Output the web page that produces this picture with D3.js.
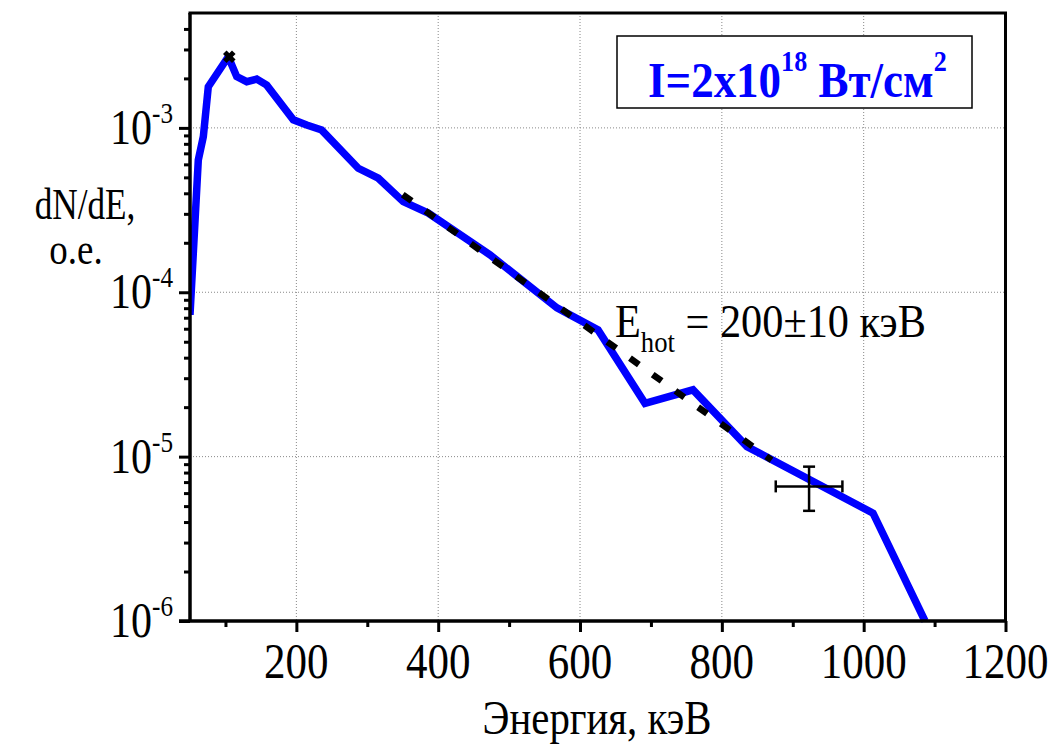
<!DOCTYPE html>
<html><head><meta charset="utf-8">
<script src="https://cdn.jsdelivr.net/npm/d3@7"></script>
<style>body{margin:0;background:#fff} svg{display:block}</style>
</head><body>
<svg id="c" width="1052" height="746"></svg>
<script>
// ---- data ----
const energy = [50, 61.7, 68.8, 75.8, 104, 115.9, 130, 144, 158.2, 195.7, 214.6, 235.7, 287.3, 315.5, 350.8, 386, 473, 567.5, 625.4, 691.6, 759.3, 835.5, 1013.2, 1086.5];
const dNdE = [7.28e-5, 6.38e-4, 8.85e-4, 1.78e-3, 2.71e-3, 2.05e-3, 1.91e-3, 1.98e-3, 1.82e-3, 1.12e-3, 1.04e-3, 9.70e-4, 5.68e-4, 4.94e-4, 3.56e-4, 3.03e-4, 1.69e-4, 8.03e-5, 5.90e-5, 2.11e-5, 2.55e-5, 1.15e-5, 4.53e-6, 1.0e-6];
const fitEnergy = [350, 870];
const fitValue = [3.93e-4, 9.53e-6];
const peakMarker = [105.4, 2.71e-3];
const errX = [876, 923, 970];
const errY = [4.68e-6, 6.59e-6, 8.69e-6];
const xTicks = [200, 400, 600, 800, 1000, 1200];
const xMinor = [100, 300, 500, 700, 900, 1100];
const yTicks = [1e-6, 1e-5, 1e-4, 1e-3];
const yTickExp = ["-6", "-5", "-4", "-3"];
const yMinor = [2e-6,3e-6,4e-6,5e-6,6e-6,7e-6,8e-6,9e-6,2e-5,3e-5,4e-5,5e-5,6e-5,7e-5,8e-5,9e-5,2e-4,3e-4,4e-4,5e-4,6e-4,7e-4,8e-4,9e-4,2e-3,3e-3,4e-3];
const xTitle = "Энергия, кэВ";
const yTitle = ["dN/dE,", "o.e."];

// ---- layout ----
const L = 190, R = 1005.5, T = 13, B = 621;
const FONT = "'Liberation Serif','Times New Roman',serif";
const svg = d3.select("#c");
const x = d3.scaleLinear().domain([50, 1200]).range([L, R]);
const y = d3.scaleLog().domain([1e-6, 5e-3]).range([B, T]);

// grid
const grid = svg.append("g").attr("stroke", "#888").attr("stroke-width", 1).attr("stroke-dasharray", "1,2");
grid.selectAll(".gx").data(xTicks.filter(d => d < 1200)).join("line")
  .attr("x1", d => x(d)).attr("x2", d => x(d)).attr("y1", T).attr("y2", B);
grid.selectAll(".gy").data(yTicks.filter(d => d > 1e-6)).join("line")
  .attr("y1", d => y(d)).attr("y2", d => y(d)).attr("x1", L).attr("x2", R);

// clip
svg.append("clipPath").attr("id", "pc").append("rect").attr("x", L).attr("y", T).attr("width", R - L).attr("height", B - T + 2);

// main curve
const pts = energy.map((e, i) => [e, dNdE[i]]);
svg.append("path").attr("clip-path", "url(#pc)")
  .attr("d", d3.line().x(d => x(d[0])).y(d => y(d[1]))(pts))
  .attr("fill", "none").attr("stroke", "#0000ff").attr("stroke-width", 7.5)
  .attr("stroke-linejoin", "miter").attr("stroke-miterlimit", 2);

// fit line
const fitPts = fitEnergy.map((e, i) => [e, fitValue[i]]);
svg.append("path")
  .attr("d", d3.line().x(d => x(d[0])).y(d => y(d[1]))(fitPts))
  .attr("fill", "none").attr("stroke", "#000").attr("stroke-width", 6.5)
  .attr("stroke-dasharray", "11,17");

// peak marker
const pm = svg.append("g").attr("transform", `translate(${x(peakMarker[0])},${y(peakMarker[1])})`)
  .attr("stroke", "#000").attr("stroke-width", 5);
pm.append("line").attr("x1", -4.5).attr("y1", -4.5).attr("x2", 4.5).attr("y2", 4.5);
pm.append("line").attr("x1", -4.5).attr("y1", 4.5).attr("x2", 4.5).attr("y2", -4.5);

// error bar
const eb = svg.append("g").attr("stroke", "#000").attr("stroke-width", 2.5);
eb.append("line").attr("x1", x(errX[0])).attr("x2", x(errX[2])).attr("y1", y(errY[1])).attr("y2", y(errY[1]));
eb.append("line").attr("y1", y(errY[0])).attr("y2", y(errY[2])).attr("x1", x(errX[1])).attr("x2", x(errX[1]));
[errX[0], errX[2]].forEach(v => eb.append("line").attr("x1", x(v)).attr("x2", x(v)).attr("y1", y(errY[1]) - 6).attr("y2", y(errY[1]) + 6));
[errY[0], errY[2]].forEach(v => eb.append("line").attr("y1", y(v)).attr("y2", y(v)).attr("x1", x(errX[1]) - 6).attr("x2", x(errX[1]) + 6));

// axes
const axX = svg.append("g").attr("transform", `translate(0,${B})`)
  .call(d3.axisBottom(x).tickValues(xTicks).tickSize(11).tickFormat(""));
const axXm = svg.append("g").attr("transform", `translate(0,${B})`)
  .call(d3.axisBottom(x).tickValues(xMinor).tickSize(6).tickFormat(""));
const axY = svg.append("g").attr("transform", `translate(${L},0)`)
  .call(d3.axisLeft(y).tickValues(yTicks).tickSize(11).tickFormat(""));
const axYm = svg.append("g").attr("transform", `translate(${L},0)`)
  .call(d3.axisLeft(y).tickValues(yMinor).tickSize(6).tickFormat(""));
[axX, axXm, axY, axYm].forEach(g => {
  g.selectAll("path.domain").attr("stroke", "#000").attr("stroke-width", 3.5);
  g.selectAll(".tick line").attr("stroke", "#000").attr("stroke-width", 3);
});
axX.select("path.domain").attr("d", `M${L - 11},0H${R}`);
axY.select("path.domain").attr("d", `M0,${B}V${T}`);
axXm.select("path.domain").remove();
axYm.select("path.domain").remove();
svg.append("line").attr("x1", L - 1.5).attr("x2", R + 1.5).attr("y1", T).attr("y2", T).attr("stroke", "#000").attr("stroke-width", 3);
svg.append("line").attr("x1", R).attr("x2", R).attr("y1", T).attr("y2", B).attr("stroke", "#000").attr("stroke-width", 3);

// text helper
function txt(px, py, anchor, size, sx) {
  return svg.append("text").attr("transform", `translate(${px},${py}) scale(${sx},1)`)
    .attr("text-anchor", anchor).attr("font-family", FONT).attr("font-size", size).attr("fill", "#000");
}

// x tick labels
xTicks.forEach(v => txt(x(v), 678, "middle", 50, 0.86).text(d3.format("d")(v)));

// y tick labels
yTicks.forEach((v, i) => {
  const t = txt(173, y(v) + 16, "end", 50, 0.84);
  t.append("tspan").text("10");
  t.append("tspan").attr("font-size", 30).attr("dy", -21).text(yTickExp[i]);
});

// axis titles
txt(597, 734, "middle", 48, 0.85).text(xTitle);
txt(85, 219, "middle", 44, 0.8).text(yTitle[0]);
txt(76, 264, "middle", 44, 0.84).text(yTitle[1]);

// annotation
const ann = txt(615, 337, "start", 46, 0.92);
ann.append("tspan").text("E");
ann.append("tspan").attr("font-size", 29).attr("dy", 15).text("hot");
ann.append("tspan").attr("dy", -15).text(" = 200±10 кэВ");

// legend box
svg.append("rect").attr("x", 617).attr("y", 36).attr("width", 355).attr("height", 72)
  .attr("fill", "#fff").attr("stroke", "#000").attr("stroke-width", 1.5);
const lg = txt(648, 97, "start", 50, 0.9).attr("font-weight", "bold").attr("fill", "#0000ff");
lg.append("tspan").text("I=2x10");
lg.append("tspan").attr("font-size", 29).attr("dy", -26).text("18");
lg.append("tspan").attr("dy", 26).text(" Вт/см");
lg.append("tspan").attr("font-size", 29).attr("dy", -26).text("2");
</script>
</body></html>
